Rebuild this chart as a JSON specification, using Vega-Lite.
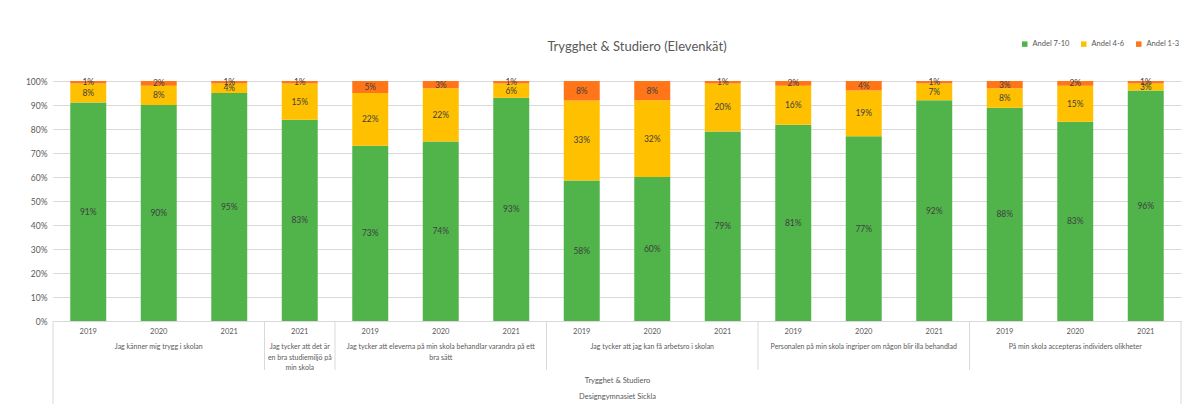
{
  "$schema": "https://vega.github.io/schema/vega-lite/v6.json",
  "width": 1128,
  "height": 240,
  "autosize": "none",
  "padding": {"left": 53, "top": 81, "right": 16, "bottom": 90},
  "background": "white",
  "title": {"text": "Trygghet & Studiero (Elevenkät)", "fontSize": 13, "font": "Lato", "fontWeight": "normal", "color": "#595959", "anchor": "middle", "offset": -14, "dx": 20},
  "config": {
    "view": {"stroke": null},
    "font": "Lato",
    "axis": {"labelFont": "Lato", "titleFont": "Lato", "labelColor": "#595959", "titleColor": "#595959"},
    "axisY": {"labelOverlap": false, "labelFontSize": 8.5, "labelPadding": 6, "ticks": false, "domain": false, "gridColor": "#D9D9D9", "labelFlush": false}
  },
  "datasets": {
    "main": [
      {"bar": "q1 2019", "cat": "Andel 7-10", "value": 0.91},
      {"bar": "q1 2019", "cat": "Andel 4-6", "value": 0.08},
      {"bar": "q1 2019", "cat": "Andel 1-3", "value": 0.01},
      {"bar": "q1 2020", "cat": "Andel 7-10", "value": 0.90},
      {"bar": "q1 2020", "cat": "Andel 4-6", "value": 0.08},
      {"bar": "q1 2020", "cat": "Andel 1-3", "value": 0.02},
      {"bar": "q1 2021", "cat": "Andel 7-10", "value": 0.95},
      {"bar": "q1 2021", "cat": "Andel 4-6", "value": 0.04},
      {"bar": "q1 2021", "cat": "Andel 1-3", "value": 0.01},
      {"bar": "q2 2021", "cat": "Andel 7-10", "value": 0.83},
      {"bar": "q2 2021", "cat": "Andel 4-6", "value": 0.15},
      {"bar": "q2 2021", "cat": "Andel 1-3", "value": 0.01},
      {"bar": "q3 2019", "cat": "Andel 7-10", "value": 0.73},
      {"bar": "q3 2019", "cat": "Andel 4-6", "value": 0.22},
      {"bar": "q3 2019", "cat": "Andel 1-3", "value": 0.05},
      {"bar": "q3 2020", "cat": "Andel 7-10", "value": 0.74},
      {"bar": "q3 2020", "cat": "Andel 4-6", "value": 0.22},
      {"bar": "q3 2020", "cat": "Andel 1-3", "value": 0.03},
      {"bar": "q3 2021", "cat": "Andel 7-10", "value": 0.93},
      {"bar": "q3 2021", "cat": "Andel 4-6", "value": 0.06},
      {"bar": "q3 2021", "cat": "Andel 1-3", "value": 0.01},
      {"bar": "q4 2019", "cat": "Andel 7-10", "value": 0.58},
      {"bar": "q4 2019", "cat": "Andel 4-6", "value": 0.33},
      {"bar": "q4 2019", "cat": "Andel 1-3", "value": 0.08},
      {"bar": "q4 2020", "cat": "Andel 7-10", "value": 0.60},
      {"bar": "q4 2020", "cat": "Andel 4-6", "value": 0.32},
      {"bar": "q4 2020", "cat": "Andel 1-3", "value": 0.08},
      {"bar": "q4 2021", "cat": "Andel 7-10", "value": 0.79},
      {"bar": "q4 2021", "cat": "Andel 4-6", "value": 0.20},
      {"bar": "q4 2021", "cat": "Andel 1-3", "value": 0.01},
      {"bar": "q5 2019", "cat": "Andel 7-10", "value": 0.81},
      {"bar": "q5 2019", "cat": "Andel 4-6", "value": 0.16},
      {"bar": "q5 2019", "cat": "Andel 1-3", "value": 0.02},
      {"bar": "q5 2020", "cat": "Andel 7-10", "value": 0.77},
      {"bar": "q5 2020", "cat": "Andel 4-6", "value": 0.19},
      {"bar": "q5 2020", "cat": "Andel 1-3", "value": 0.04},
      {"bar": "q5 2021", "cat": "Andel 7-10", "value": 0.92},
      {"bar": "q5 2021", "cat": "Andel 4-6", "value": 0.07},
      {"bar": "q5 2021", "cat": "Andel 1-3", "value": 0.01},
      {"bar": "q6 2019", "cat": "Andel 7-10", "value": 0.88},
      {"bar": "q6 2019", "cat": "Andel 4-6", "value": 0.08},
      {"bar": "q6 2019", "cat": "Andel 1-3", "value": 0.03},
      {"bar": "q6 2020", "cat": "Andel 7-10", "value": 0.83},
      {"bar": "q6 2020", "cat": "Andel 4-6", "value": 0.15},
      {"bar": "q6 2020", "cat": "Andel 1-3", "value": 0.02},
      {"bar": "q6 2021", "cat": "Andel 7-10", "value": 0.96},
      {"bar": "q6 2021", "cat": "Andel 4-6", "value": 0.03},
      {"bar": "q6 2021", "cat": "Andel 1-3", "value": 0.01}
    ],
    "questions": [
      {"bar": "q1 2020", "q": "Jag känner mig trygg i skolan"},
      {"bar": "q2 2021", "q": "Jag tycker att det är\nen bra studiemiljö på\nmin skola"},
      {"bar": "q3 2020", "q": "Jag tycker att eleverna på min skola behandlar varandra på ett\nbra sätt"},
      {"bar": "q4 2020", "q": "Jag tycker att jag kan få arbetsro i skolan"},
      {"bar": "q5 2020", "q": "Personalen på min skola ingriper om någon blir illa behandlad"},
      {"bar": "q6 2020", "q": "På min skola accepteras individers olikheter"}
    ],
    "seps": [
      {"bar": "q2 2021", "level": "inner"},
      {"bar": "q3 2019", "level": "inner"},
      {"bar": "q4 2019", "level": "inner"},
      {"bar": "q5 2019", "level": "inner"},
      {"bar": "q6 2019", "level": "inner"},
      {"bar": "q1 2019", "level": "start"},
      {"bar": "q6 2021", "level": "end"}
    ]
  },
  "layer": [
    {
      "data": {"name": "main"},
      "mark": {"type": "bar", "width": {"band": 0.51}},
      "encoding": {
        "x": {
          "field": "bar", "type": "nominal",
          "scale": {"paddingInner": 0, "paddingOuter": 0},
          "axis": {
            "labelExpr": "slice(datum.value, -4)",
            "labelAngle": 0,
            "labelFontSize": 7.5,
            "labelPadding": 6,
            "ticks": false,
            "grid": false,
            "domainColor": "#D9D9D9",
            "title": ["Trygghet & Studiero", "Designgymnasiet Sickla"],
            "titleFontSize": 7.5,
            "titleFontWeight": "normal",
            "titleLineHeight": 16,
            "titlePadding": 42
          }
        },
        "y": {
          "field": "value", "type": "quantitative", "stack": "normalize",
          "scale": {"domain": [0, 1], "nice": false},
          "axis": {"format": ".0%", "values": [0, 0.1, 0.2, 0.3, 0.4, 0.5, 0.6, 0.7, 0.8, 0.9, 1], "tickCount": 11, "title": null}
        },
        "color": {
          "field": "cat", "type": "nominal",
          "scale": {"domain": ["Andel 7-10", "Andel 4-6", "Andel 1-3"], "range": ["#50B44A", "#FFC000", "#FF7518"]},
          "legend": {
            "title": null,
            "orient": "none",
            "direction": "horizontal",
            "legendX": 968,
            "legendY": -41,
            "symbolType": "square",
            "symbolSize": 30,
            "symbolStrokeWidth": 0,
            "labelFontSize": 7.5,
            "labelColor": "#595959",
            "columnPadding": 10
          }
        },
        "order": {"field": "cat", "sort": "descending"}
      }
    },
    {
      "data": {"name": "main"},
      "mark": {"type": "text", "fontSize": 8.5, "color": "#404040"},
      "encoding": {
        "x": {"field": "bar", "type": "nominal"},
        "y": {"field": "value", "type": "quantitative", "stack": "normalize", "bandPosition": 0.5},
        "detail": {"field": "cat"},
        "order": {"field": "cat", "sort": "descending"},
        "text": {"field": "value", "format": ".0%"}
      }
    },
    {
      "data": {"name": "questions"},
      "mark": {"type": "text", "fontSize": 7, "color": "#595959", "baseline": "top", "lineBreak": "\n", "lineHeight": 10.5},
      "encoding": {
        "x": {"field": "bar", "type": "nominal"},
        "y": {"datum": -0.092},
        "text": {"field": "q"}
      }
    },
    {
      "data": {"name": "seps"},
      "transform": [{"filter": "datum.level === 'inner'"}],
      "mark": {"type": "rule", "color": "#D9D9D9", "strokeWidth": 1},
      "encoding": {
        "x": {"field": "bar", "type": "nominal", "bandPosition": 0},
        "y": {"datum": 0},
        "y2": {"datum": -0.204}
      }
    },
    {
      "data": {"name": "seps"},
      "transform": [{"filter": "datum.level === 'start'"}],
      "mark": {"type": "rule", "color": "#D9D9D9", "strokeWidth": 1},
      "encoding": {
        "x": {"field": "bar", "type": "nominal", "bandPosition": 0},
        "y": {"datum": 0},
        "y2": {"datum": -0.346}
      }
    },
    {
      "data": {"name": "seps"},
      "transform": [{"filter": "datum.level === 'end'"}],
      "mark": {"type": "rule", "color": "#D9D9D9", "strokeWidth": 1},
      "encoding": {
        "x": {"field": "bar", "type": "nominal", "bandPosition": 1},
        "y": {"datum": 0},
        "y2": {"datum": -0.346}
      }
    }
  ]
}
